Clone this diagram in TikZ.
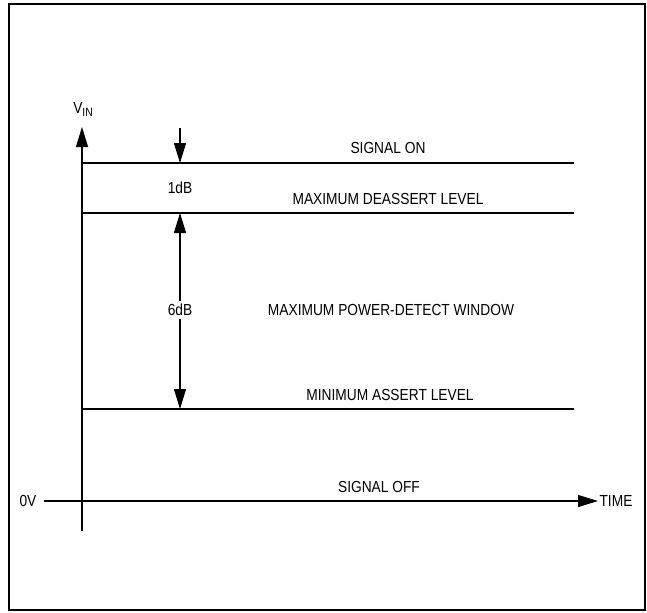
\documentclass[tikz,border=0pt]{standalone}
\usepackage{fontspec}
\setmainfont[FakeStretch=0.86]{Liberation Sans}
\usetikzlibrary{arrows.meta}
\begin{document}
\begin{tikzpicture}[x=0.75pt,y=-0.75pt,
  lbl/.style={inner sep=0pt,font=\fontsize{12pt}{14pt}\selectfont},
  ln/.style={line width=0.9pt},
  arr/.style={ln,-{Triangle[length=15pt,width=9pt]}},
  darr/.style={ln,{Triangle[length=15pt,width=9pt]}-{Triangle[length=15pt,width=9pt]}}]
\useasboundingbox (0,0) rectangle (647,612);
\draw[line width=1.5pt] (9,4) rectangle (645,610);
% coordinates
\coordinate (yb) at (82,531);
\coordinate (yt) at (82,127);
\coordinate (xl) at (44,501);
\coordinate (xr) at (598,501);
\coordinate (onL) at (82,163);
\coordinate (onR) at (574,163);
\coordinate (deL) at (82,213);
\coordinate (deR) at (574,213);
\coordinate (asL) at (82,409);
\coordinate (asR) at (574,409);
\coordinate (a1s) at (180,128);
\coordinate (a1e) at (180,163);
\coordinate (a6s) at (180,213);
\coordinate (a6e) at (180,409);
% axes and lines
\draw[arr] (yb) -- (yt);
\draw[arr] (xl) -- (xr);
\draw[ln] (onL) -- (onR);
\draw[ln] (deL) -- (deR);
\draw[ln] (asL) -- (asR);
\draw[arr] (a1s) -- (a1e);
\draw[darr] (a6s) -- (a6e);
% labels
\node[lbl,anchor=base west] (vin) at (73,113) {V\raisebox{-2.5pt}{\fontsize{9pt}{9pt}\selectfont IN}};
\node[lbl] (zero) at (28,501) {0V};
\node[lbl] (time) at (616,501) {TIME};
\node[lbl] (son) at (388,148) {SIGNAL ON};
\node[lbl] (mdl) at (388,199) {MAXIMUM DEASSERT LEVEL};
\node[lbl] (one) at (180,188) {1dB};
\node[lbl,fill=white,inner sep=2pt] (six) at (180,310) {6dB};
\node[lbl] (pdw) at (391,310) {MAXIMUM POWER-DETECT WINDOW};
\node[lbl] (mal) at (390,395) {MINIMUM ASSERT LEVEL};
\node[lbl] (soff) at (379,487) {SIGNAL OFF};
\end{tikzpicture}
\end{document}
